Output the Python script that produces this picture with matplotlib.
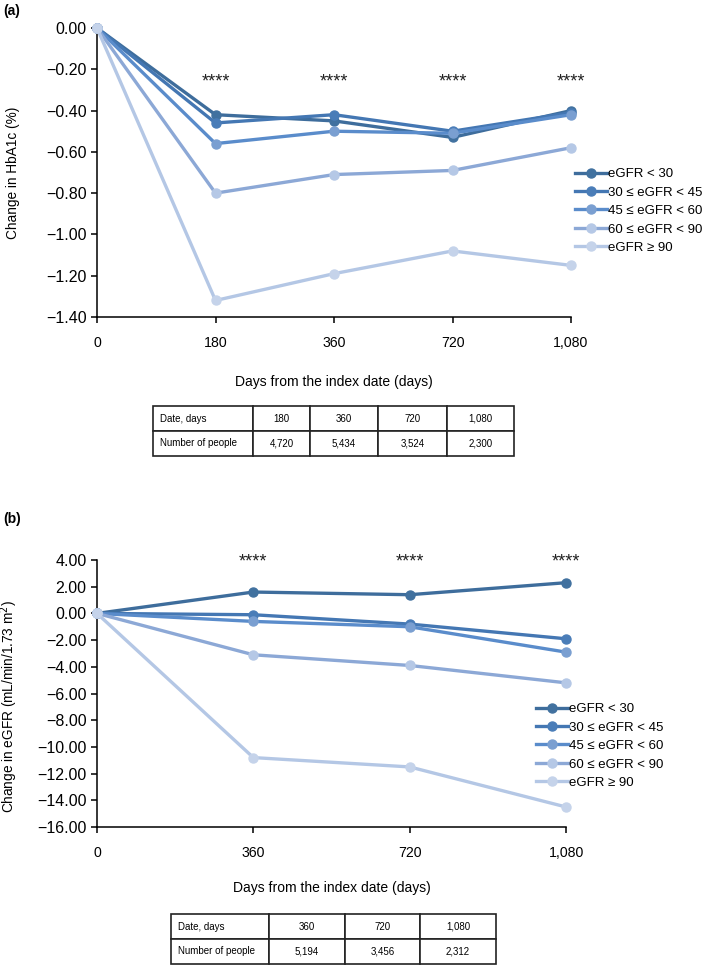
import matplotlib
matplotlib.use("Agg")
import matplotlib.pyplot as plt
import matplotlib.ticker as mticker

plt.rcParams['font.family'] = ['Liberation Sans', 'DejaVu Sans']

# -----------------------------
# Data
# -----------------------------
GROUPS = ["eGFR < 30", "30 \u2264 eGFR < 45", "45 \u2264 eGFR < 60",
          "60 \u2264 eGFR < 90", "eGFR \u2265 90"]
LINE_COLORS = ["#3e6d9c", "#4477b3", "#5a8ccb", "#8ca8d6", "#b4c7e5"]
MARKER_COLORS = ["#41719f", "#4a7db8", "#7a9fd1", "#b5c8e6", "#c5d3ea"]

# (a) HbA1c
DAYS_A = ["0", "180", "360", "720", "1,080"]
HBA1C = [
    [0.00, -0.42, -0.45, -0.53, -0.40],
    [0.00, -0.46, -0.42, -0.50, -0.41],
    [0.00, -0.56, -0.50, -0.51, -0.42],
    [0.00, -0.80, -0.71, -0.69, -0.58],
    [0.00, -1.32, -1.19, -1.08, -1.15],
]
TABLE_A_DAYS = ["180", "360", "720", "1,080"]
TABLE_A_PEOPLE = ["4,720", "5,434", "3,524", "2,300"]

# (b) eGFR
DAYS_B = ["0", "360", "720", "1,080"]
EGFR = [
    [0.0, 1.6, 1.4, 2.3],
    [0.0, -0.1, -0.8, -1.9],
    [0.0, -0.6, -1.0, -2.9],
    [0.0, -3.1, -3.9, -5.2],
    [0.0, -10.8, -11.5, -14.5],
]
TABLE_B_DAYS = ["360", "720", "1,080"]
TABLE_B_PEOPLE = ["5,194", "3,456", "2,312"]

STARS = "****"

W, H = 709, 969
fig = plt.figure(figsize=(W / 100, H / 100), dpi=100)


def fmt_y(v, pos):
    s = f"{v:.2f}"
    if s in ("-0.00", "0.00"):
        return "0.00"
    return s.replace("-", "\u2212")


def px_axes(x0, y0, x1, y1):
    # pixel box (top-left origin) -> figure fraction
    return fig.add_axes([x0 / W, 1 - y1 / H, (x1 - x0) / W, (y1 - y0) / H])


def draw_panel(ax, days, series, yticks, star_y, legend_xy, ylabel, xpad):
    x = list(range(len(days)))
    for vals, lc, mc, lab in zip(series, LINE_COLORS, MARKER_COLORS, GROUPS):
        ax.plot(x, vals, color=lc, lw=2.4, marker="o", ms=6.5,
                mfc=mc, mec=mc, label=lab, clip_on=False, zorder=3)
    ax.set_xlim(0, len(days) - 1)
    ax.set_ylim(yticks[-1], yticks[0])
    ax.set_xticks(x)
    ax.set_xticklabels(days, fontsize=10.2)
    ax.set_yticks(yticks)
    ax.yaxis.set_major_formatter(mticker.FuncFormatter(fmt_y))
    ax.tick_params(axis="y", labelsize=11.5, length=4.5, width=1.1, pad=3)
    ax.tick_params(axis="x", length=4.5, width=1.1, pad=9)
    for s in ("top", "right"):
        ax.spines[s].set_visible(False)
    for s in ("left", "bottom"):
        ax.spines[s].set_linewidth(1.1)
    for xi in x[1:]:
        ax.text(xi, star_y, STARS, ha="center", va="baseline",
                fontsize=13, color="#222222", clip_on=False)
    ax.set_xlabel("Days from the index date (days)", fontsize=10, labelpad=xpad)
    ax.set_ylabel(ylabel, fontsize=9.8)
    ax.legend(loc="upper left", bbox_to_anchor=legend_xy,
              bbox_transform=fig.transFigure, frameon=False, fontsize=9.5,
              handlelength=2.4, handletextpad=0.1, labelspacing=0.47,
              borderpad=0, borderaxespad=0)


def draw_table(box, days, people, col_px):
    tax = px_axes(*box)
    tax.axis("off")
    cells = [["Date, days"] + days, ["Number of people"] + people]
    total = sum(col_px)
    tbl = tax.table(cellText=cells, colWidths=[c / total for c in col_px],
                    bbox=[0, 0, 1, 1], cellLoc="center")
    tbl.auto_set_font_size(False)
    for (r, c), cell in tbl.get_celld().items():
        cell.set_linewidth(1.2)
        cell.set_edgecolor("#222222")
        cell.get_text().set_fontsize(7)
        if c == 0:
            cell.get_text().set_ha("left")
            cell.PAD = 0.07


# (a)
ax_a = px_axes(97, 28, 571, 317)
draw_panel(ax_a, DAYS_A, HBA1C,
           [0.0, -0.2, -0.4, -0.6, -0.8, -1.0, -1.2, -1.4],
           -0.284, (575 / W, 1 - 168 / H), "Change in HbA1c (%)", 18)
ax_a.yaxis.set_label_coords(-0.162, 0.5)
draw_table((153, 406, 514, 456), TABLE_A_DAYS, TABLE_A_PEOPLE,
           [100, 57, 68, 69, 67])

# (b)
ax_b = px_axes(97, 560, 566, 827)
draw_panel(ax_b, DAYS_B, EGFR,
           [4, 2, 0, -2, -4, -6, -8, -10, -12, -14, -16],
           3.55, (536 / W, 1 - 703 / H),
           "Change in eGFR (mL/min/1.73 m$^{2}$)", 15)
ax_b.yaxis.set_label_coords(-0.164, 0.45)
draw_table((171, 914, 496, 964), TABLE_B_DAYS, TABLE_B_PEOPLE,
           [98, 76, 75, 76])

fig.text(3 / W, 1 - 11 / H, "(a)", fontsize=10, fontweight="bold",
         va="center", ha="left")
fig.text(3 / W, 1 - 519 / H, "(b)", fontsize=10, fontweight="bold",
         va="center", ha="left")

fig.savefig("out.png", dpi=100)
